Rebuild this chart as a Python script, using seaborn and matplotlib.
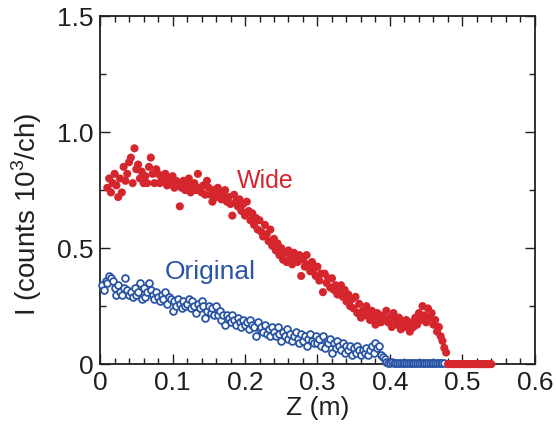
import numpy as np
import pandas as pd
import matplotlib
matplotlib.use("Agg")
import matplotlib.pyplot as plt
import seaborn as sns
from matplotlib.ticker import MultipleLocator

# Position along the beam axis (m), sampled every 2.5 mm
z_wide = np.round(np.arange(0.010, 0.5401, 0.0025), 4)
z_original = np.round(np.arange(0.0025, 0.4751, 0.0025), 4)

# Counts (10^3 per channel) for the wide configuration
i_wide = [
    0.76, 0.80, 0.74, 0.78, 0.82, 0.77, 0.72, 0.80,
    0.74, 0.85, 0.79, 0.82, 0.87, 0.89, 0.78, 0.93,
    0.84, 0.86, 0.80, 0.83, 0.78, 0.81, 0.78, 0.85,
    0.89, 0.82, 0.78, 0.84, 0.82, 0.78, 0.80, 0.79,
    0.82, 0.77, 0.80, 0.78, 0.81, 0.76, 0.79, 0.78,
    0.68, 0.76, 0.79, 0.75, 0.77, 0.80, 0.74, 0.77,
    0.78, 0.75, 0.82, 0.76, 0.74, 0.77, 0.73, 0.79,
    0.76, 0.73, 0.70, 0.75, 0.72, 0.76, 0.74, 0.71,
    0.73, 0.75, 0.70, 0.72, 0.69, 0.64, 0.73, 0.70,
    0.68, 0.71, 0.66, 0.69, 0.64, 0.70, 0.66, 0.62,
    0.65, 0.60, 0.63, 0.58, 0.62, 0.57, 0.55, 0.60,
    0.56, 0.53, 0.58, 0.51, 0.54, 0.49, 0.52, 0.47,
    0.50, 0.45, 0.48, 0.44, 0.49, 0.46, 0.43, 0.48,
    0.46, 0.44, 0.47, 0.38, 0.45, 0.42, 0.47, 0.43,
    0.40, 0.44, 0.41, 0.38, 0.42, 0.36, 0.39, 0.31,
    0.39, 0.35, 0.37, 0.33, 0.37, 0.32, 0.34, 0.30,
    0.31, 0.34, 0.29, 0.32, 0.27, 0.30, 0.25, 0.28,
    0.24, 0.29, 0.22, 0.26, 0.20, 0.23, 0.21, 0.25,
    0.22, 0.19, 0.23, 0.20, 0.17, 0.22, 0.20, 0.18,
    0.21, 0.19, 0.23, 0.18, 0.20, 0.16, 0.22, 0.19,
    0.17, 0.20, 0.15, 0.18, 0.16, 0.19, 0.17, 0.14,
    0.18, 0.16, 0.20, 0.17, 0.22, 0.19, 0.25, 0.21,
    0.18, 0.24, 0.20, 0.22, 0.17, 0.19, 0.14, 0.16,
    0.12, 0.10, 0.07, 0.05,
    0.0, 0.0, 0.0, 0.0, 0.0, 0.0, 0.0, 0.0,
    0.0, 0.0, 0.0, 0.0, 0.0, 0.0, 0.0, 0.0,
    0.0, 0.0, 0.0, 0.0, 0.0, 0.0, 0.0, 0.0,
    0.0,
]

# Counts (10^3 per channel) for the original configuration
i_original = [
    0.34, 0.32, 0.36, 0.35, 0.38, 0.37, 0.36, 0.33,
    0.30, 0.34, 0.31, 0.30, 0.33, 0.37, 0.32, 0.30,
    0.31, 0.29, 0.33, 0.30, 0.31, 0.35, 0.28, 0.33,
    0.29, 0.31, 0.35, 0.32, 0.30, 0.28, 0.31, 0.29,
    0.27, 0.30, 0.28, 0.31, 0.26, 0.29, 0.28, 0.23,
    0.27, 0.25, 0.28, 0.26, 0.24, 0.27, 0.25, 0.26,
    0.28, 0.24, 0.27, 0.25, 0.22, 0.26, 0.24, 0.27,
    0.25, 0.20, 0.23, 0.25, 0.22, 0.24, 0.21, 0.25,
    0.21, 0.23, 0.19, 0.21, 0.17, 0.21, 0.20, 0.18,
    0.21, 0.19, 0.17, 0.20, 0.18, 0.16, 0.19, 0.17,
    0.18, 0.15, 0.19, 0.17, 0.16, 0.12, 0.18, 0.15,
    0.16, 0.14, 0.17, 0.13, 0.15, 0.12, 0.16, 0.14,
    0.12, 0.16, 0.13, 0.10, 0.14, 0.12, 0.15, 0.11,
    0.13, 0.10, 0.12, 0.14, 0.11, 0.09, 0.13, 0.10,
    0.12, 0.08, 0.11, 0.13, 0.10, 0.09, 0.12, 0.09,
    0.11, 0.08, 0.12, 0.07, 0.10, 0.09, 0.11, 0.05,
    0.09, 0.07, 0.10, 0.08, 0.06, 0.09, 0.05, 0.08,
    0.06, 0.08, 0.04, 0.07, 0.05, 0.08, 0.06, 0.04,
    0.06, 0.05, 0.07, 0.04, 0.06, 0.08, 0.05, 0.09,
    0.07, 0.08, 0.04, 0.03, 0.02, 0.01, 0.005, 0.005,
    0.01, 0.005, 0.005, 0.005, 0.005, 0.005, 0.005, 0.005,
    0.005, 0.005, 0.005, 0.005, 0.005, 0.005, 0.005, 0.005,
    0.005, 0.005, 0.005, 0.005, 0.005, 0.005, 0.005, 0.005,
    0.005, 0.005, 0.005, 0.005, 0.005, 0.005,
]

x_ticks = [0, 0.1, 0.2, 0.3, 0.4, 0.5, 0.6]
x_tick_labels = ["0", "0.1", "0.2", "0.3", "0.4", "0.5", "0.6"]
y_ticks = [0, 0.5, 1.0, 1.5]
y_tick_labels = ["0", "0.5", "1.0", "1.5"]

RED = "#d5262e"
BLUE = "#2a55a5"
INK = "#231f20"

df_wide = pd.DataFrame({"Z": z_wide, "I": i_wide})
df_orig = pd.DataFrame({"Z": z_original, "I": i_original})

sns.set_style("ticks")
plt.rcParams["font.family"] = ["Liberation Sans", "DejaVu Sans"]
plt.rcParams["mathtext.fontset"] = "custom"
plt.rcParams["mathtext.rm"] = "Liberation Sans"

fig = plt.figure(figsize=(5.56, 4.34), dpi=100)
ax = fig.add_axes([0.18, 0.161, 0.782, 0.802])

sns.scatterplot(data=df_orig, x="Z", y="I", ax=ax, marker="o", s=24,
                facecolor="white", edgecolor=BLUE, linewidth=1.3,
                clip_on=False, zorder=3)
sns.scatterplot(data=df_wide, x="Z", y="I", ax=ax, marker="o", s=34,
                color=RED, edgecolor="none", linewidth=0,
                clip_on=False, zorder=4)

ax.set_xlim(0, 0.6)
ax.set_ylim(0, 1.5)
ax.set_xticks(x_ticks)
ax.set_xticklabels(x_tick_labels)
ax.set_yticks(y_ticks)
ax.set_yticklabels(y_tick_labels)
ax.xaxis.set_minor_locator(MultipleLocator(0.02))
ax.yaxis.set_minor_locator(MultipleLocator(0.25))

for side in ["left", "right", "top", "bottom"]:
    ax.spines[side].set_visible(True)
    ax.spines[side].set_linewidth(1.3)
    ax.spines[side].set_color(INK)

ax.tick_params(which="both", direction="in", top=True, right=True,
               color=INK, width=1.0)
ax.tick_params(which="major", length=7, labelsize=19, pad=5,
               labelcolor=INK)
ax.tick_params(which="minor", length=4)

ax.set_xlabel("Z (m)", fontsize=19, color=INK, labelpad=1)
ax.set_ylabel("I (counts 10$^3$/ch)", fontsize=20, color=INK)
ax.yaxis.set_label_coords(-0.128, 0.43)

ax.text(0.228, 0.79, "Wide", color=RED, fontsize=18, ha="center", va="center")
ax.text(0.152, 0.395, "Original", color=BLUE, fontsize=19, ha="center", va="center")

fig.savefig("out.png", dpi=100)
